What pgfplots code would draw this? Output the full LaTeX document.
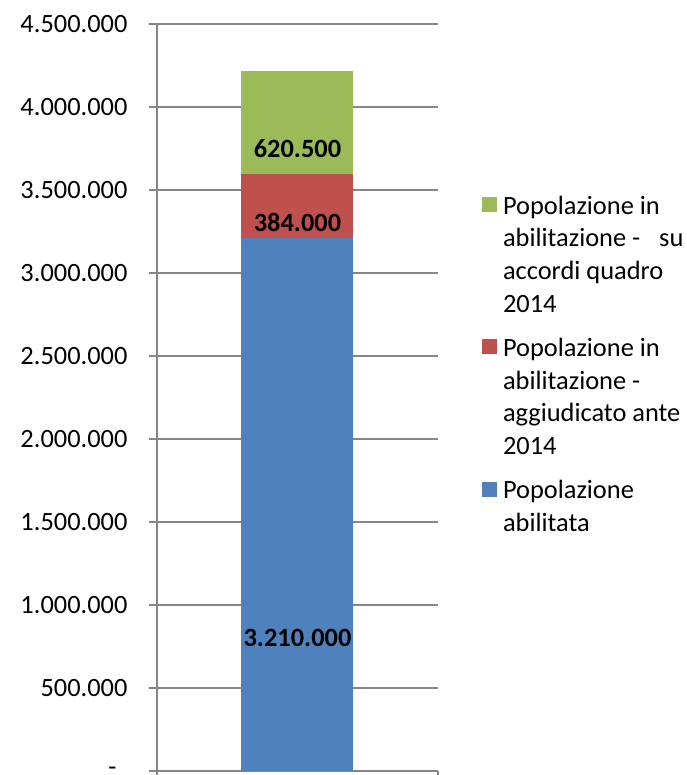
\documentclass[border=0pt]{standalone}
\usepackage{pgfplots}
\pgfplotsset{compat=1.18}
\usepackage{fontspec}
\setmainfont{Carlito}
\definecolor{cgreen}{RGB}{155,187,89}
\definecolor{cred}{RGB}{192,80,77}
\definecolor{cblue}{RGB}{79,129,189}
\definecolor{cgrid}{RGB}{134,134,134}
\pgfplotsset{
  legtwo/.style={legend image code/.code={\fill[##1] (0bp,34.5bp) rectangle (15bp,49.5bp);}},
  legfour/.style={legend image code/.code={\fill[##1] (0bp,100.5bp) rectangle (15bp,115.5bp);}},
  labblue/.style={every node near coord/.style={font=\fontsize{26.5}{33}\selectfont\bfseries, text=black, anchor=center, yshift=-133.2bp}},
  labred/.style={every node near coord/.style={font=\fontsize{26.5}{33}\selectfont\bfseries, text=black, anchor=center, yshift=-15.95bp}},
  labgreen/.style={every node near coord/.style={font=\fontsize{26.5}{33}\selectfont\bfseries, text=black, anchor=center, yshift=-25.75bp}},
}
\begin{document}
\begin{tikzpicture}
\path[use as bounding box] (-157bp,-4bp) rectangle (530bp,771bp);
\begin{axis}[
  scale only axis,
  width=281bp, height=747bp,
  xmin=0, xmax=1,
  ymin=0, ymax=4500000,
  ybar stacked,
  bar width=112bp,
  axis x line*=bottom,
  axis y line*=left,
  axis line style={cgrid, line width=1.2bp, -},
  xtick={0,1}, xticklabels={},
  ytick={0,500000,1000000,1500000,2000000,2500000,3000000,3500000,4000000,4500000},
  yticklabels={{-\hspace*{11bp}},500.000,1.000.000,1.500.000,2.000.000,2.500.000,3.000.000,3.500.000,4.000.000,4.500.000},
  scaled y ticks=false,
  ymajorgrids,
  grid style={cgrid, line width=1.2bp},
  tick style={cgrid, line width=1.2bp},
  tick align=outside,
  major tick length=8bp,
  font=\fontsize{26.5}{33}\selectfont,
  yticklabel style={font=\fontsize{26.5}{33}\selectfont, xshift=-18bp},
  clip=false,
  point meta=explicit symbolic,
  nodes near coords,
  legend style={at={(axis description cs:1.1566,0.7764)}, anchor=north west,
    draw=none, fill=none, inner sep=0pt, outer sep=0pt,
    column sep=6bp, row sep=19bp,
    font=\fontsize{26.5}{33}\selectfont,
    cells={anchor=base west, align=left}, nodes={inner sep=0pt}},
  reverse legend,
]
\addplot[fill=cblue, draw=none, labblue, legtwo]
  coordinates {(0.5,3210000) [3.210.000]};
\addlegendentry{\strut Popolazione\\abilitata\strut}
\addplot[fill=cred, draw=none, labred, legfour]
  coordinates {(0.5,384000) [384.000]};
\addlegendentry{\strut Popolazione in\\abilitazione -\\aggiudicato ante\\2014\strut}
\addplot[fill=cgreen, draw=none, labgreen, legfour]
  coordinates {(0.5,620500) [620.500]};
\addlegendentry{\strut Popolazione in\\abilitazione -\hspace{19bp}su\\accordi quadro\\2014\strut}
\end{axis}
\end{tikzpicture}
\end{document}
